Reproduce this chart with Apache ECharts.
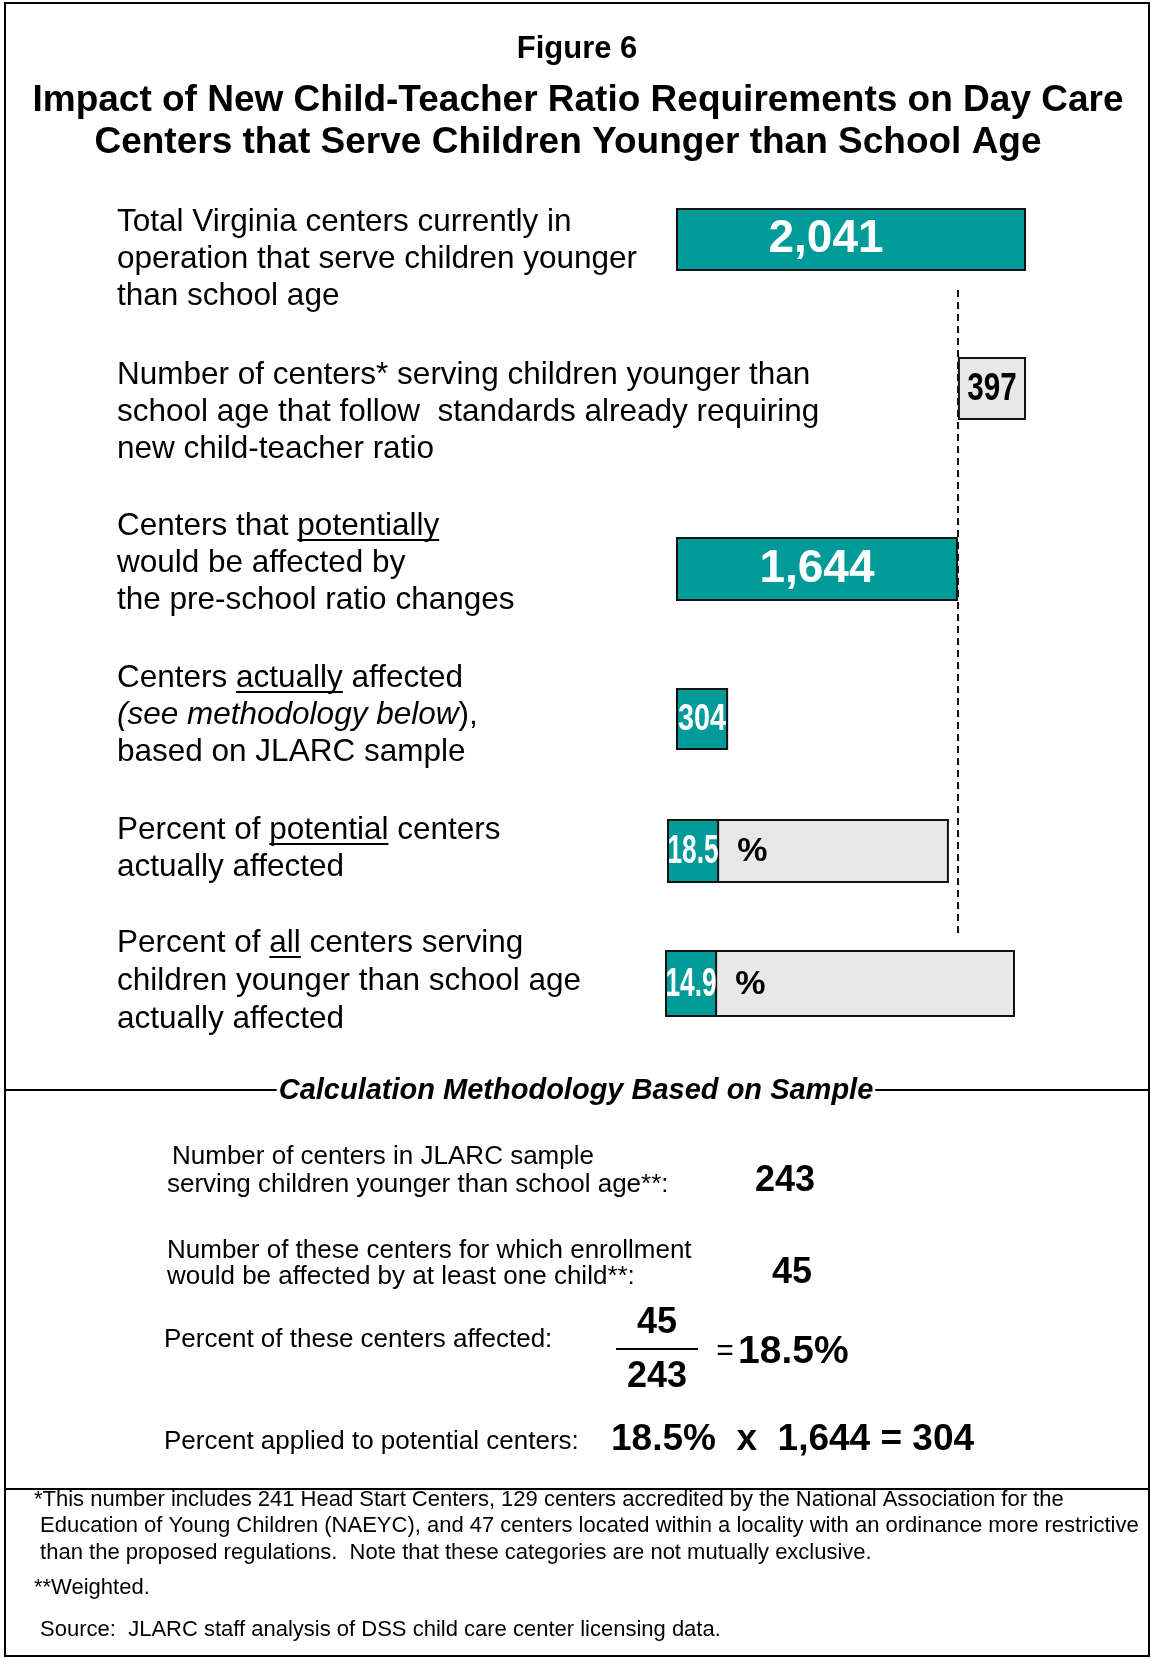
<!DOCTYPE html>
<html><head><meta charset="utf-8">
<script src="https://cdn.jsdelivr.net/npm/echarts@6/dist/echarts.min.js"></script>
<style>html,body{margin:0;padding:0;background:#fff}#c{width:1151px;height:1658px}</style>
</head><body><div id="c"></div>
<script>
// ---------------- DATA ----------------
const titleLines = ['Figure 6', 'Impact of New Child-Teacher Ratio Requirements on Day Care', 'Centers that Serve Children Younger than School Age'];
const rowLabels = [
  ['Total Virginia centers currently in', 'operation that serve children younger', 'than school age'],
  ['Number of centers* serving children younger than', 'school age that follow  standards already requiring', 'new child-teacher ratio'],
  ['Centers that [u]potentially[/u]', 'would be affected by', 'the pre-school ratio changes'],
  ['Centers [u]actually[/u] affected', '[i](see methodology below[/i]),', 'based on JLARC sample'],
  ['Percent of [u]potential[/u] centers', 'actually affected'],
  ['Percent of [u]all[/u] centers serving', 'children younger than school age', 'actually affected']
];
// centers: total in operation, already following new ratio, potentially affected, actually affected
const centerCounts = [2041, 397, 1644, 304];
const pctBases = [1644, 2041];     // grey bars (potential / all centers)
const pctActual = [304, 304];      // teal part (actually affected)
const pctValues = [18.5, 14.9];    // percent labels
const methodTitle = 'Calculation Methodology Based on Sample';
const methodLabels = [
  ['Number of centers in JLARC sample', 'serving children younger than school age**:'],
  ['Number of these centers for which enrollment', 'would be affected by at least one child**:'],
  ['Percent of these centers affected:'],
  ['Percent applied to potential centers:']
];
const sampleCenters = 243;
const sampleAffected = 45;
const samplePct = 18.5;
const appliedResult = 304;
const footnotes = [
  '*This number includes 241 Head Start Centers, 129 centers accredited by the National Association for the',
  ' Education of Young Children (NAEYC), and 47 centers located within a locality with an ordinance more restrictive',
  ' than the proposed regulations.  Note that these categories are not mutually exclusive.',
  '**Weighted.',
  ' Source:  JLARC staff analysis of DSS child care center licensing data.'
];

// ---------------- STYLE / LAYOUT ----------------
const ARIAL = '"Liberation Sans", Arial, Helvetica, sans-serif';
const TEAL = '#009B98';
const GREY = '#E8E8E8';
const EDGE = '#111';
const barLayout = [
  {left: 676, top: 208, h: 63},
  {left: 676, top: 357, h: 63},
  {left: 676, top: 537, h: 64},
  {left: 676, top: 688, h: 62},
  {left: 667, top: 819, h: 64},
  {left: 665, top: 950, h: 67}
];
const BAR_W = 350;
const labelLayout = [
  {y: 222, dy: 37}, {y: 375, dy: 37}, {y: 526, dy: 37},
  {y: 678, dy: 37}, {y: 830, dy: 37}, {y: 943, dy: 38}
];
const LABEL_X = 117, LABEL_SIZE = 31.5;
const COND_SCALE = 0.8;   // emulate a narrow bold face

const fmt = v => Number(v).toLocaleString('en-US');
const mctx = document.createElement('canvas').getContext('2d');
function fontStr(size, weight, style, fam) { return (style || 'normal') + ' ' + (weight || 'normal') + ' ' + size + 'px ' + (fam || ARIAL); }
function measure(t, f) { mctx.font = f; return mctx.measureText(t).width; }
function textEl(t, x, y, f, align, fill, extra) {
  return Object.assign({type: 'text', x: x, y: y, silent: true, z: 10,
    style: {text: t, font: f, fill: fill || '#000', align: align || 'left', verticalAlign: 'middle',
            textAlign: align || 'left', textVerticalAlign: 'middle'}}, extra || {});
}
function lineEl(x1, y1, x2, y2, w) {
  return {type: 'line', silent: true, z: 10, shape: {x1: x1, y1: y1, x2: x2, y2: y2}, style: {stroke: '#000', lineWidth: w || 2}};
}
function parseSegs(line) {
  const segs = []; const re = /\[(u|i)\](.*?)\[\/\1\]/g; let last = 0, m;
  while ((m = re.exec(line))) {
    if (m.index > last) segs.push({t: line.slice(last, m.index)});
    const s = {t: m[2]}; s[m[1]] = true; segs.push(s); last = re.lastIndex;
  }
  if (last < line.length) segs.push({t: line.slice(last)});
  return segs;
}

// ---------------- CHART ----------------
const grids = [], xAxes = [], yAxes = [], series = [];
barLayout.forEach((b, i) => {
  grids.push({left: b.left, top: b.top, width: BAR_W, height: b.h, containLabel: false});
  xAxes.push({type: 'value', gridIndex: i, min: 0, max: centerCounts[0], show: false});
  yAxes.push({type: 'category', gridIndex: i, data: ['row' + i], show: false});
});
const barBase = {type: 'bar', barWidth: '100%', animation: false};
const bigLabel = {show: true, position: 'inside', color: '#fff', fontFamily: ARIAL, fontWeight: 'bold', fontSize: 46, formatter: p => fmt(p.value)};
series.push(Object.assign({}, barBase, {xAxisIndex: 0, yAxisIndex: 0, data: [centerCounts[0]],
  itemStyle: {color: TEAL, borderColor: EDGE, borderWidth: 2}, label: Object.assign({}, bigLabel, {offset: [-25, 0]})}));
series.push(Object.assign({}, barBase, {xAxisIndex: 1, yAxisIndex: 1, stack: 's1', silent: true, data: [centerCounts[2]],
  itemStyle: {color: 'rgba(0,0,0,0)'}}));
series.push(Object.assign({}, barBase, {xAxisIndex: 1, yAxisIndex: 1, stack: 's1', data: [centerCounts[1]],
  itemStyle: {color: GREY, borderColor: EDGE, borderWidth: 2}}));
series.push(Object.assign({}, barBase, {xAxisIndex: 2, yAxisIndex: 2, data: [centerCounts[2]],
  itemStyle: {color: TEAL, borderColor: EDGE, borderWidth: 2}, label: bigLabel}));
series.push(Object.assign({}, barBase, {xAxisIndex: 3, yAxisIndex: 3, data: [centerCounts[3]],
  itemStyle: {color: TEAL, borderColor: EDGE, borderWidth: 2}}));
pctBases.forEach((base, k) => {
  const gi = 4 + k;
  series.push(Object.assign({}, barBase, {xAxisIndex: gi, yAxisIndex: gi, data: [base], barGap: '-100%',
    itemStyle: {color: GREY, borderColor: EDGE, borderWidth: 2}}));
  series.push(Object.assign({}, barBase, {xAxisIndex: gi, yAxisIndex: gi, data: [pctActual[k]], barGap: '-100%',
    itemStyle: {color: TEAL, borderColor: EDGE, borderWidth: 2}}));
});
grids.push({left: 676, top: 288, width: BAR_W, height: 645});
xAxes.push({type: 'value', gridIndex: 6, min: 0, max: centerCounts[0], show: false});
yAxes.push({type: 'value', gridIndex: 6, min: 0, max: 1, show: false});
series.push({type: 'line', xAxisIndex: 6, yAxisIndex: 6, data: [], z: 1, animation: false,
  markLine: {silent: true, symbol: ['none', 'none'], label: {show: false}, animation: false,
    lineStyle: {color: EDGE, width: 2, type: [7, 5]}, data: [{xAxis: centerCounts[2]}]}});

const tFig = fontStr(31, 'bold'), tMain = fontStr(37, 'bold');
const chart = echarts.init(document.getElementById('c'), null, {renderer: 'canvas'});
chart.setOption({
  backgroundColor: '#fff',
  animation: false,
  title: [
    {text: titleLines[0], left: 577 - measure(titleLines[0], tFig) / 2, top: 34, padding: 0, textStyle: {fontFamily: ARIAL, fontWeight: 'bold', fontSize: 31, color: '#000'}},
    {text: titleLines[1], left: 578 - measure(titleLines[1], tMain) / 2, top: 82, padding: 0, textStyle: {fontFamily: ARIAL, fontWeight: 'bold', fontSize: 37, color: '#000'}},
    {text: titleLines[2], left: 568 - measure(titleLines[2], tMain) / 2, top: 124, padding: 0, textStyle: {fontFamily: ARIAL, fontWeight: 'bold', fontSize: 37, color: '#000'}}
  ],
  grid: grids, xAxis: xAxes, yAxis: yAxes, series: series
});

// ---------------- TEXT / DECORATION ----------------
const graphics = [];
graphics.push({type: 'rect', silent: true, z: 10, shape: {x: 5, y: 3, width: 1144, height: 1653}, style: {fill: 'none', stroke: '#000', lineWidth: 2}});
rowLabels.forEach((lines, r) => {
  lines.forEach((ln, k) => {
    const y = labelLayout[r].y + k * labelLayout[r].dy;
    let x = LABEL_X;
    parseSegs(ln).forEach(s => {
      const f = fontStr(LABEL_SIZE, 'normal', s.i ? 'italic' : 'normal');
      graphics.push(textEl(s.t, x, y, f));
      const w = measure(s.t, f);
      const uy = y + LABEL_SIZE * 0.35 + 3;
      if (s.u) graphics.push(lineEl(x, uy, x + w, uy, 2));
      x += w;
    });
  });
});
// narrow bold value labels, positioned via the axes
const px = (gi, v) => chart.convertToPixel({xAxisIndex: gi}, v);
const py = gi => chart.convertToPixel({yAxisIndex: gi}, 'row' + gi);
graphics.push(textEl(String(centerCounts[1]), px(1, centerCounts[2] + centerCounts[1] / 2), py(1) + 1, fontStr(38, 'bold'), 'center', '#000', {scaleX: 0.78, z: 20}));
graphics.push(textEl(String(centerCounts[3]), px(3, centerCounts[3] / 2), py(3) + 1, fontStr(36, 'bold'), 'center', '#fff', {scaleX: COND_SCALE, z: 20}));
pctBases.forEach((base, k) => {
  const gi = 4 + k;
  const x0 = px(gi, 0), x1 = px(gi, pctActual[k]);
  const t = pctValues[k].toFixed(1), f = fontStr(40, 'bold');
  const sx = Math.min(COND_SCALE, (x1 - x0 - 1) / measure(t, f));
  graphics.push(textEl(t, (x0 + x1) / 2, py(gi) + 1, f, 'center', '#fff', {scaleX: sx, z: 20}));
  graphics.push(textEl('%', x1 + 18, py(gi) + 1, fontStr(34, 'bold'), 'left', '#000', {z: 20}));
});
// methodology heading with rule
{
  const f = fontStr(29, 'bold', 'italic');
  const w = measure(methodTitle, f), cx = 576, y = 1091;
  graphics.push(textEl(methodTitle, cx, y, f, 'center'));
  graphics.push(lineEl(5, 1090, cx - w / 2 - 2, 1090, 2));
  graphics.push(lineEl(cx + w / 2 + 2, 1090, 1150, 1090, 2));
}
const mSize = 26;
const mPos = [[{x: 172, y: 1157}, {x: 167, y: 1185}], [{x: 167, y: 1251}, {x: 167, y: 1277}], [{x: 164, y: 1340}], [{x: 164, y: 1442}]];
methodLabels.forEach((lines, r) => lines.forEach((ln, k) => graphics.push(textEl(ln, mPos[r][k].x, mPos[r][k].y, fontStr(mSize)))));
const nb = fontStr(36, 'bold');
graphics.push(textEl(String(sampleCenters), 755, 1181, nb));
graphics.push(textEl(String(sampleAffected), 772, 1273, nb));
graphics.push(textEl(String(sampleAffected), 657, 1323, nb, 'center'));
graphics.push(lineEl(616, 1349, 698, 1349, 2));
graphics.push(textEl(String(sampleCenters), 657, 1377, nb, 'center'));
graphics.push(textEl('=', 725, 1352, fontStr(30), 'center'));
graphics.push(textEl(samplePct + '%', 738, 1352, fontStr(39, 'bold')));
graphics.push(textEl(samplePct + '%  x  ' + fmt(centerCounts[2]) + ' = ' + appliedResult, 611, 1440, fontStr(37, 'bold')));
graphics.push(lineEl(5, 1489, 1150, 1489, 2));
const fnSize = 22;
const fnPos = [{x: 34, y: 1500}, {x: 34, y: 1526}, {x: 34, y: 1553}, {x: 34, y: 1588}, {x: 34, y: 1630}];
footnotes.forEach((t, i) => graphics.push(textEl(t, fnPos[i].x, fnPos[i].y, fontStr(fnSize))));

chart.setOption({graphic: graphics});
</script></body></html>
